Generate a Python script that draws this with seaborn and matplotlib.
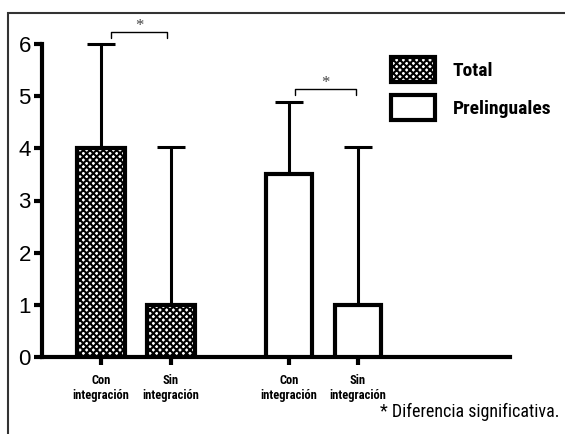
import pandas as pd
import seaborn as sns
import matplotlib.pyplot as plt
from matplotlib.patches import Patch, Rectangle

# datos
grupos = ['Total', 'Total', 'Prelinguales', 'Prelinguales']
etiquetas = ['Con\nintegración', 'Sin\nintegración', 'Con\nintegración', 'Sin\nintegración']
posiciones = [0, 1, 2.686, 3.671]
medias = [4.0, 1.0, 3.5, 1.0]
limite_sup = [6.0, 4.03, 4.88, 4.02]

df = pd.DataFrame({'grupo': grupos, 'pos': posiciones, 'media': medias, 'sup': limite_sup})

sns.set_style('ticks')
plt.rcParams['hatch.linewidth'] = 1.5
for k in ['text.color', 'axes.edgecolor', 'xtick.color', 'ytick.color', 'axes.labelcolor']:
    plt.rcParams[k] = 'black'
narrow = ['Roboto Condensed', 'Archivo Narrow', 'DejaVu Sans']

fig = plt.figure(figsize=(5.65, 4.34), dpi=100)
ax = fig.add_axes([42 / 565, 77 / 434, 468 / 565, 313 / 434])

# marco exterior
fig.patches.append(Rectangle((8 / 565, -0.1), 1.2, 1 - 13 / 434 + 0.1, transform=fig.transFigure,
                             fill=False, edgecolor='#333333', linewidth=1.5))

estilos = {'Total': 'xxxxx', 'Prelinguales': None}
for g in ['Total', 'Prelinguales']:
    d = df[df['grupo'] == g]
    sns.barplot(data=d, x='pos', y='media', native_scale=True, errorbar=None, color='white',
                saturation=1, width=0.68, edgecolor='black', linewidth=3, hatch=estilos[g],
                ax=ax, zorder=3)

# barras de error (solo hacia arriba)
ax.errorbar(df['pos'], df['media'], yerr=[[0] * 4, df['sup'] - df['media']], fmt='none',
            ecolor='black', elinewidth=2.2, capsize=10, capthick=2.2, zorder=2, clip_on=False)

# corchetes de significancia
for x0, x1, y in [(0.143, 0.943, 6.23), (2.77, 3.64, 5.14)]:
    ax.plot([x0, x0, x1, x1], [y - 0.12, y, y, y - 0.12], color='black', linewidth=1, clip_on=False)
    ax.text((x0 + x1) / 2, y + 0.12, '*', ha='center', va='center', fontsize=12,
            family='Liberation Serif', color='#444444')

ax.set_xlim(-0.843, 5.843)
ax.set_ylim(0, 6)
ax.set_yticks(range(7))
ax.set_yticklabels([str(i) for i in range(7)], fontsize=16, family='Liberation Sans')
ax.set_xticks(posiciones)
ax.set_xticklabels(etiquetas, fontsize=9, fontweight='bold', family=narrow, linespacing=1.2)
ax.set_xlabel('')
ax.set_ylabel('')
sns.despine(ax=ax)
for s in ['left', 'bottom']:
    ax.spines[s].set_linewidth(3)
ax.tick_params(axis='both', width=3, length=6, direction='out', pad=2)
ax.tick_params(axis='x', pad=6)

handles = [Patch(facecolor='white', edgecolor='black', linewidth=3, hatch='xxxxx'),
           Patch(facecolor='white', edgecolor='black', linewidth=3)]
fig.legend(handles, ['Total', 'Prelinguales'], loc='upper left',
           bbox_to_anchor=(381 / 565, 1 - 47 / 434), frameon=False, borderpad=0,
           handlelength=2.3, handleheight=1.6, handletextpad=0.9, labelspacing=0.7,
           prop={'family': narrow, 'weight': 'bold', 'size': 14})

fig.text(560 / 565, 1 - 412 / 434, '* Diferencia significativa.', ha='right', va='center',
         fontsize=13, family=narrow)

fig.savefig('out.png', dpi=100)
